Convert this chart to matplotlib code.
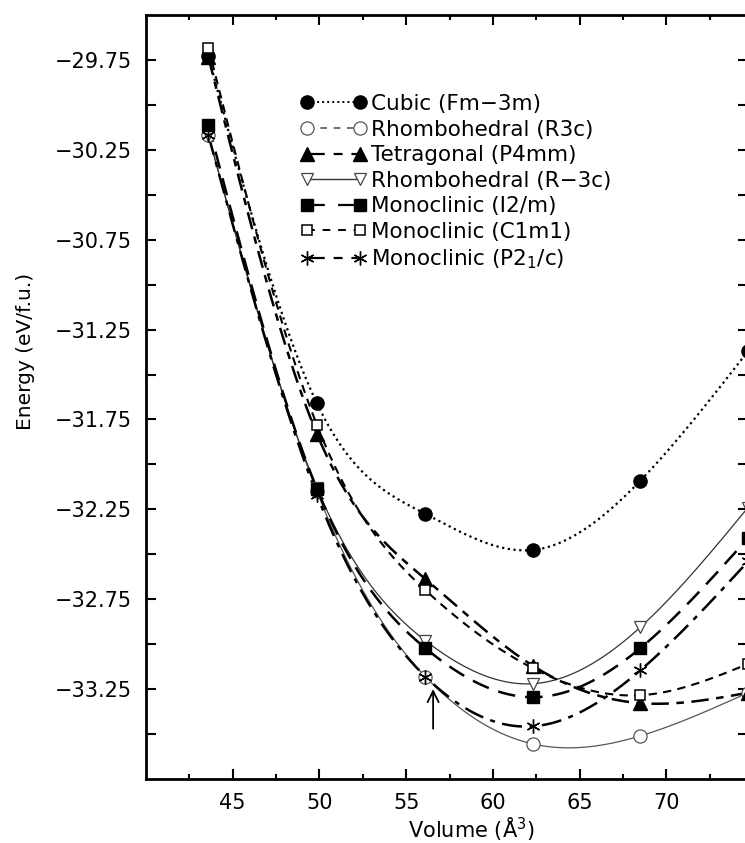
import numpy as np
import matplotlib
matplotlib.use("Agg")
import matplotlib.pyplot as plt
from matplotlib.lines import Line2D
from matplotlib.ticker import FixedLocator, NullFormatter

# volumes (A^3) and energies (eV/f.u.)
volume = [43.6, 49.85, 56.1, 62.3, 68.5, 74.7]

cubic = [-29.73, -31.66, -32.275, -32.476, -32.09, -31.37]
rhombo_r3c = [-30.17, -32.15, -33.18, -33.555, -33.51, -33.27]
tetragonal = [-29.735, -31.83, -32.637, -33.12, -33.328, -33.27]
rhombo_rm3c = [-30.17, -32.13, -32.98, -33.22, -32.905, -32.24]
mono_i2m = [-30.112, -32.136, -33.022, -33.295, -33.022, -32.41]
mono_c1m1 = [-29.683, -31.78, -32.699, -33.134, -33.284, -33.11]
mono_p21c = [-30.17, -32.17, -33.18, -33.457, -33.145, -32.54]

labels = ["Cubic (Fm\u22123m)", "Rhombohedral (R3c)", "Tetragonal (P4mm)",
          "Rhombohedral (R\u22123c)", "Monoclinic (I2/m)", "Monoclinic (C1m1)",
          "Monoclinic (P2$_1$/c)"]

arrow_x = 56.55
arrow_tip = -33.25
arrow_tail = -33.47


def spline(x, y, n=300):
    # natural cubic spline through the points, only used to draw the smooth line
    x = np.asarray(x, float)
    y = np.asarray(y, float)
    k = len(x)
    h = np.diff(x)
    A = np.zeros((k, k))
    b = np.zeros(k)
    A[0, 0] = A[-1, -1] = 1
    for i in range(1, k - 1):
        A[i, i - 1] = h[i - 1]
        A[i, i] = 2 * (h[i - 1] + h[i])
        A[i, i + 1] = h[i]
        b[i] = 6 * ((y[i + 1] - y[i]) / h[i] - (y[i] - y[i - 1]) / h[i - 1])
    m = np.linalg.solve(A, b)
    xs = np.linspace(x[0], x[-1], n)
    j = np.clip(np.searchsorted(x, xs) - 1, 0, k - 2)
    t = xs - x[j]
    hj = h[j]
    a = (m[j + 1] - m[j]) / (6 * hj)
    c = (y[j + 1] - y[j]) / hj - hj * (2 * m[j] + m[j + 1]) / 6
    ys = y[j] + c * t + m[j] / 2 * t ** 2 + a * t ** 3
    return xs, ys


plt.rcParams["font.family"] = ["DejaVu Sans"]

fig = plt.figure(figsize=(7.45, 8.43), dpi=100)
ax = fig.add_axes([146 / 745, 64 / 843, 602 / 745, 764 / 843])

series = [
    # data, curve style, legend style, marker
    (cubic, dict(ls=(0, (1, 1.6)), lw=1.6, color="black"), dict(ls=(0, (1, 1.6)), lw=1.4),
     dict(marker="o", ms=9.5, mfc="black", mec="black")),
    (rhombo_r3c, dict(ls="-", lw=0.9, color="#555555"), dict(ls=(0, (4, 4)), lw=1.2),
     dict(marker="o", ms=9.5, mfc="white", mec="#555555", mew=0.9)),
    (tetragonal, dict(ls=(0, (7, 3, 3, 3)), lw=1.8, color="black"), dict(ls=(0, (8, 4, 4, 4)), lw=1.6),
     dict(marker="^", ms=9.5, mfc="black", mec="black")),
    (rhombo_rm3c, dict(ls="-", lw=0.9, color="#333333"), dict(ls="-", lw=1.0),
     dict(marker="v", ms=8, mfc="white", mec="#444444", mew=0.9)),
    (mono_i2m, dict(ls=(0, (7, 4)), lw=1.8, color="black"), dict(ls=(0, (8, 6)), lw=1.6),
     dict(marker="s", ms=8.5, mfc="black", mec="black")),
    (mono_c1m1, dict(ls=(0, (4, 3)), lw=1.5, color="black"), dict(ls=(0, (4, 4)), lw=1.4),
     dict(marker="s", ms=6.5, mfc="white", mec="black", mew=1.1)),
    (mono_p21c, dict(ls=(0, (8, 3, 2, 3)), lw=1.8, color="black"), dict(ls=(0, (8, 4, 4, 4)), lw=1.6),
     dict(marker=(6, 2, 0), ms=10, mfc="black", mec="black", mew=1.0)),
]

handles = []
for data, curve, leg, mk in series:
    xs, ys = spline(volume, data)
    ax.plot(xs, ys, zorder=2, **curve)
    ax.plot(volume, data, ls="none", zorder=3, **mk)
    handles.append(Line2D([], [], color=curve["color"], **leg, **mk))

ax.annotate("", xy=(arrow_x, arrow_tip), xytext=(arrow_x, arrow_tail),
            arrowprops=dict(arrowstyle="->", lw=1.3, color="black",
                            mutation_scale=20, shrinkA=0, shrinkB=0))

ax.set_xlim(40, 74.7)
ax.set_ylim(-33.75, -29.5)

ax.xaxis.set_major_locator(FixedLocator([45, 50, 55, 60, 65, 70]))
ax.xaxis.set_minor_locator(FixedLocator([42.5, 47.5, 52.5, 57.5, 62.5, 67.5, 72.5]))
ax.yaxis.set_major_locator(FixedLocator(np.arange(-33.25, -29.7, 0.5)))
ax.yaxis.set_minor_locator(FixedLocator(np.arange(-33.5, -29.7, 0.5)))
ax.yaxis.set_minor_formatter(NullFormatter())
ax.set_yticklabels(["\u2212%.2f" % abs(v) for v in np.arange(-33.25, -29.7, 0.5)])

ax.tick_params(axis="both", which="both", direction="in", top=True, right=True,
               width=1.5, labelsize=15)
ax.tick_params(axis="x", which="major", length=7, pad=10)
ax.tick_params(axis="x", which="minor", length=3.5)
ax.tick_params(axis="y", which="both", length=7, pad=10)
for s in ax.spines.values():
    s.set_linewidth(2)

ax.set_xlabel("Volume (\u00c5$^3$)", fontsize=15)
ax.set_ylabel("Energy (eV/f.u.)", fontsize=14.5)
ax.xaxis.set_label_coords(0.54, -0.048)
ax.yaxis.set_label_coords(-0.184, 0.56)

fig.legend(handles, labels, loc="upper left", bbox_to_anchor=(301 / 745, 1 - 94 / 843),
           frameon=False, fontsize=15.5, numpoints=2, handlelength=3.05,
           handletextpad=0.2, labelspacing=0.26, borderpad=0, borderaxespad=0)

fig.savefig("out.png", dpi=100)
